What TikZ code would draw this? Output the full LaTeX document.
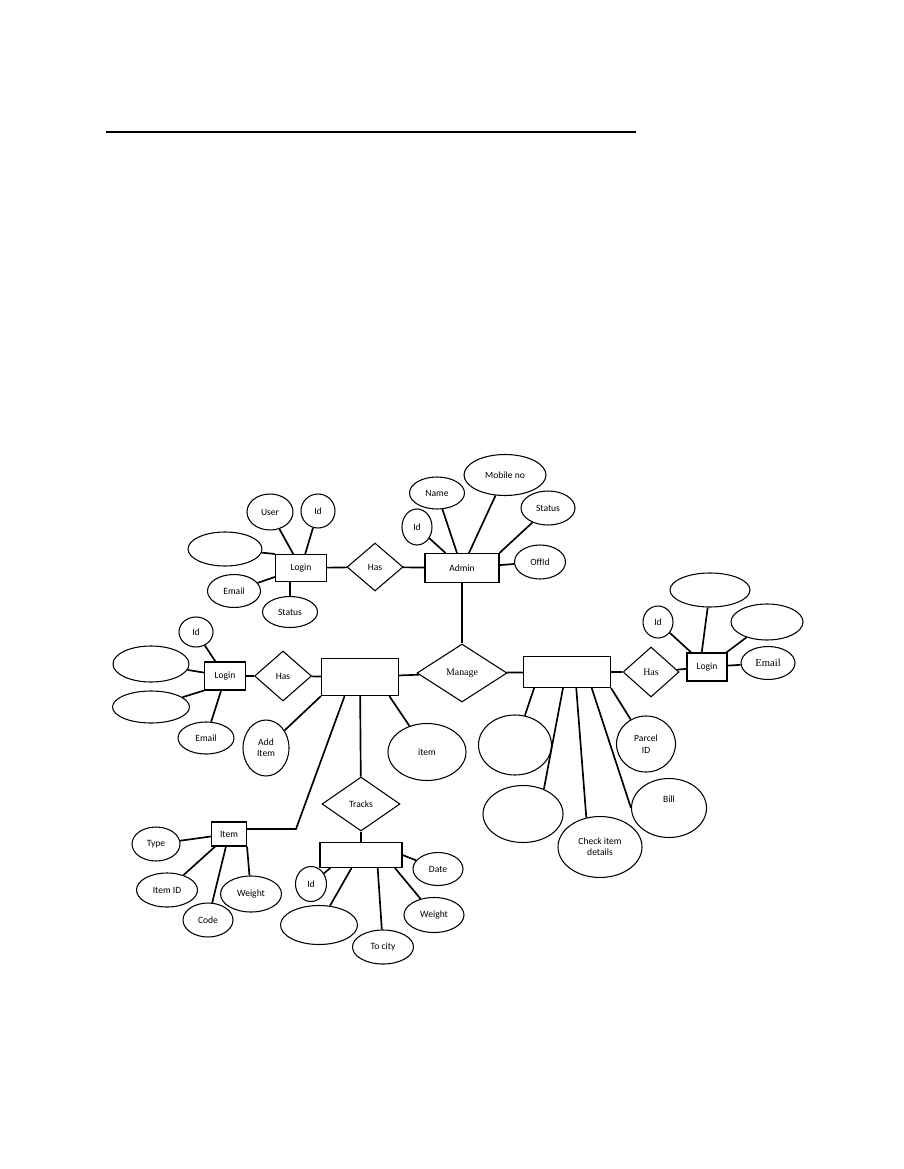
\documentclass[tikz,border=0pt]{standalone}
\usepackage{fontspec}
\setmainfont{Carlito}
\newfontfamily\romanfont{Liberation Serif}
\usetikzlibrary{shapes.geometric}

\tikzset{
  attr/.style 2 args={ellipse,draw,line width=0.7pt,inner sep=0pt,align=center,
    minimum width=#1*0.658pt,minimum height=#2*0.658pt},
  entity/.style 2 args={rectangle,draw,line width=0.7pt,inner sep=0pt,
    minimum width=#1*0.658pt,minimum height=#2*0.658pt},
  rel/.style 2 args={diamond,draw,line width=0.7pt,inner sep=0pt,
    minimum width=#1*0.658pt,minimum height=#2*0.658pt},
  link/.style={line width=1.1pt}
}

\begin{document}
\begin{tikzpicture}[x=0.658pt,y=-0.658pt,font=\fontsize{6.3}{7.5}\selectfont]
  \useasboundingbox (0,0) rectangle (904,1169);
  % rule at the top of the page
  \draw[line width=1.3pt] (106,132) coordinate (ruleL) -- (636,132) coordinate (ruleR);

  % admin side
  \node[entity={51}{27}] (loginA) at (301,568) {Login};
  \node[attr={46}{36}] (loginAuser) at (270,512) {User};
  \node[attr={34}{34}] (loginAid) at (318,511) {Id};
  \node[attr={74}{34}] (loginAblank) at (225,549) {};
  \node[attr={53}{33}] (loginAemail) at (234,591) {Email};
  \node[attr={55}{31}] (loginAstatus) at (290,612) {Status};
  \node[rel={56}{48}] (hasA) at (375,567) {Has};
  \node[entity={74}{29}] (admin) at (462,568) {Admin};
  \node[attr={30}{36}] (adminid) at (417,527) {Id};
  \node[attr={55}{32}] (adminname) at (437,493) {Name};
  \node[attr={82}{41}] (adminmobile) at (505,475) {Mobile no};
  \node[attr={54}{34}] (adminstatus) at (548,508) {Status};
  \node[attr={51}{34}] (adminoffid) at (540,562) {OffId};
  \node[rel={90}{58},font=\romanfont\fontsize{6.5}{7.5}\selectfont] (manage) at (462,673) {Manage};

  % left entity and its login
  \node[entity={77}{37}] (entL) at (360,677) {};
  \node[rel={57}{50}] (hasL) at (283,676) {Has};
  \node[entity={41}{28}] (loginL) at (225,676) {Login};
  \node[attr={34}{30}] (loginLid) at (196,632) {Id};
  \node[attr={76}{36}] (loginLb1) at (151,664) {};
  \node[attr={77}{32}] (loginLb2) at (151,707) {};
  \node[attr={56}{32}] (loginLemail) at (206,738) {Email};
  \node[attr={46}{56}] (additem) at (266,748) {Add\\Item};
  \node[attr={78}{57}] (itematt) at (427,752) {item};

  % right entity and its login
  \node[entity={87}{31}] (entR) at (567,672) {};
  \node[rel={56}{50},font=\romanfont\fontsize{6.5}{7.5}\selectfont] (hasR) at (651,672) {Has};
  \node[entity={40}{28}] (loginR) at (707,667) {Login};
  \node[attr={54}{33},font=\romanfont\fontsize{7}{8}\selectfont] (loginRemail) at (768,663) {Email};
  \node[attr={30}{32}] (loginRid) at (658,622) {Id};
  \node[attr={80}{34}] (loginRtop) at (710,590) {};
  \node[attr={72}{36}] (loginRright) at (767,622) {};
  \node[attr={73}{60}] (entRa) at (515,745) {};
  \node[attr={59}{56}] (parcel) at (646,744) {Parcel\\ID};
  \node[attr={80}{57}] (entRb) at (523,814) {};
  \node[attr={84}{61}] (check) at (600,847) {Check item\\details};
  \node[attr={75}{59},label={[anchor=center,yshift=-14pt]north:Bill}] (bill) at (669,808) {};

  % tracks and the item entity
  \node[rel={78}{54}] (tracks) at (361,804) {Tracks};
  \node[entity={82}{25}] (entT) at (361,855) {};
  \node[attr={50}{33}] (entTdate) at (438,869) {Date};
  \node[attr={31}{35}] (entTid) at (311,884) {Id};
  \node[attr={77}{39}] (entTblank) at (319,925) {};
  \node[attr={61}{34}] (entTcity) at (383,947) {To city};
  \node[attr={60}{35}] (entTweight) at (434,915) {Weight};
  \node[entity={35}{24}] (item) at (229,834) {Item};
  \node[attr={48}{34}] (itemtype) at (156,844) {Type};
  \node[attr={61}{34}] (itemid) at (167,890) {Item ID};
  \node[attr={50}{34}] (itemcode) at (208,920) {Code};
  \node[attr={61}{36}] (itemweight) at (251,894) {Weight};
  \coordinate (bend) at (296,829);

  % connectors
  \draw[link] (loginAuser) -- (loginA);
  \draw[link] (loginAid) -- (loginA);
  \draw[link] (loginAblank) -- (loginA.north west);
  \draw[link] (loginAemail) -- (loginA);
  \draw[link] (loginAstatus) -- (loginAstatus |- loginA.south);
  \draw[link] (loginA) -- (hasA) -- (admin);
  \draw[link] (adminid) -- (admin);
  \draw[link] (adminname) -- (admin);
  \draw[link] (adminmobile) -- (admin);
  \draw[link] (adminstatus) -- (admin.north east);
  \draw[link] (adminoffid) -- (admin);
  \draw[link] (admin) -- (manage);

  \draw[link] (loginLid) -- (loginL);
  \draw[link] (loginLb1) -- (loginL);
  \draw[link] (loginLb2) -- (loginL.south west);
  \draw[link] (loginLemail) -- (loginL.-105);
  \draw[link] (loginL) -- (hasL) -- (entL) -- (manage) -- (entR) -- (hasR) -- (loginR) -- (loginRemail);
  \draw[link] (additem) -- (entL.south west);
  \draw[link] (entL.-129) -- (bend) -- (bend -| item.east);
  \draw[link] (entL) -- (tracks);
  \draw[link] (entL.-33) -- (itematt);

  \draw[link] (loginRid) -- (loginR);
  \draw[link] (loginRtop) -- (loginR.110);
  \draw[link] (loginRright) -- (loginR);
  \draw[link] (entR.-154) -- (entRa);
  \draw[link] (entR.-104) -- (entRb.50);
  \draw[link] (entR.-60) -- (check.115);
  \draw[link] (entR.-33) -- (bill.west);
  \draw[link] (entR.south east) -- (parcel);

  \draw[link] (tracks) -- (entT);
  \draw[link] (entT.east) -- (entTdate);
  \draw[link] (entT.-157) -- (entTid);
  \draw[link] (entT.-126) -- (entTblank);
  \draw[link] (entT.-38) -- (entTcity);
  \draw[link] (entT.-21) -- (entTweight);
  \draw[link] (itemtype) -- (item);
  \draw[link] (itemid) -- (item);
  \draw[link] (itemcode) -- (item);
  \draw[link] (itemweight) -- (item.south east);
\end{tikzpicture}
\end{document}
